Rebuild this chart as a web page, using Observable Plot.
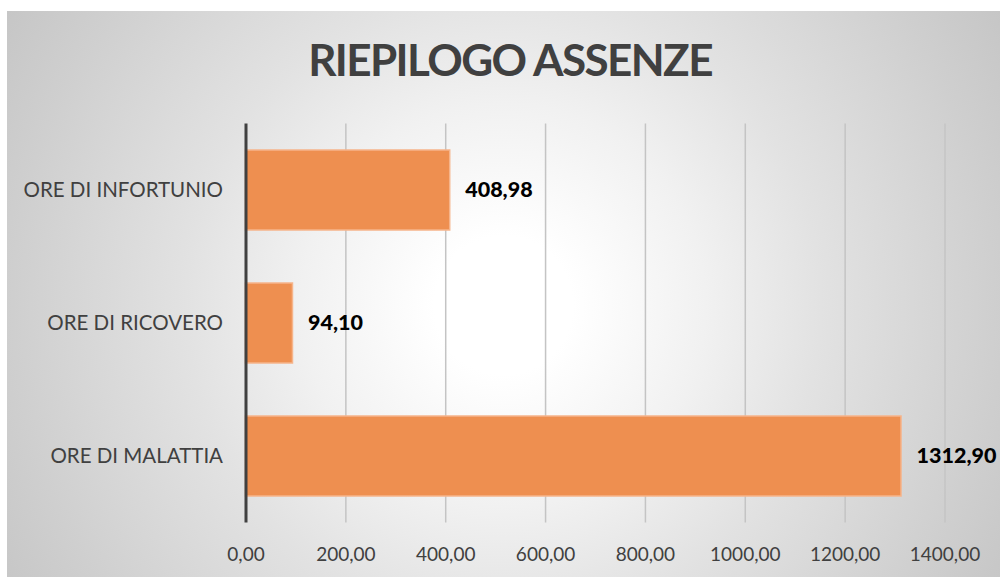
<!DOCTYPE html>
<html>
<head>
<meta charset="utf-8">
<script src="https://cdn.jsdelivr.net/npm/d3@7"></script>
<script src="https://cdn.jsdelivr.net/npm/@observablehq/plot@0.6"></script>
<style>
  html, body { margin: 0; padding: 0; background: #ffffff; }
  #wrap { position: relative; width: 1000px; height: 577px; overflow: hidden; }
  #panel { position: absolute; left: 7px; top: 11px; width: 993px; height: 566px;
    background: radial-gradient(circle farthest-corner at 50% 52%, #ffffff 12%, #f1f1f1 35%, #e2e2e2 55%, #cfcfcf 85%, #c6c6c6 100%); }
  #title { position: absolute; left: 0; width: 1020px; top: 33px; text-align: center;
    font-family: Lato, "Open Sans", sans-serif; font-weight: 700; font-size: 44px; color: #404040; letter-spacing: -1.6px; }
  #chart { position: absolute; left: 0; top: 0; }
</style>
</head>
<body>
<div id="wrap">
  <div id="panel"></div>
  <div id="title">RIEPILOGO ASSENZE</div>
  <div id="chart"></div>
</div>
<script>
const categories = ["ORE DI INFORTUNIO", "ORE DI RICOVERO", "ORE DI MALATTIA"];
const values = [408.98, 94.10, 1312.90];
const xTicks = [0, 200, 400, 600, 800, 1000, 1200, 1400];

const data = categories.map((c, i) => ({category: c, value: values[i]}));
const it = d3.formatLocale({decimal: ",", thousands: "", grouping: [3], currency: ["", "€"]});
const fmt = it.format(".2f");

const font = "Lato, 'Open Sans', sans-serif";

const chart = Plot.plot({
  width: 1000,
  height: 577,
  marginLeft: 245.5,
  marginRight: 55.5,
  marginTop: 123.5,
  marginBottom: 54.5,
  style: {background: "transparent", fontFamily: font, fontSize: "19px", color: "#404040"},
  x: {domain: [0, 1400], ticks: xTicks, tickFormat: fmt, tickSize: 0, tickPadding: 24, label: null},
  y: {domain: categories, paddingInner: 0.4, paddingOuter: 0.2, tickSize: 0, tickPadding: 23, label: null},
  marks: [
    Plot.ruleX(xTicks.filter(d => d > 0), {stroke: "#c4c4c4", strokeWidth: 1.5}),
    Plot.barX(data, {y: "category", x: "value", fill: "#ee8f50", stroke: "#f6b48a", strokeWidth: 1.5}),
    Plot.ruleX([0], {stroke: "#404040", strokeWidth: 3}),
    Plot.axisY({tickSize: 0, tickPadding: 23, fontSize: 20.5, label: null}),
    Plot.text(data, {y: "category", x: "value", text: d => fmt(d.value), textAnchor: "start", dx: 15,
      fill: "#000000", fontWeight: 900, fontSize: 21.5})
  ]
});
document.getElementById("chart").appendChild(chart);
</script>
</body>
</html>
